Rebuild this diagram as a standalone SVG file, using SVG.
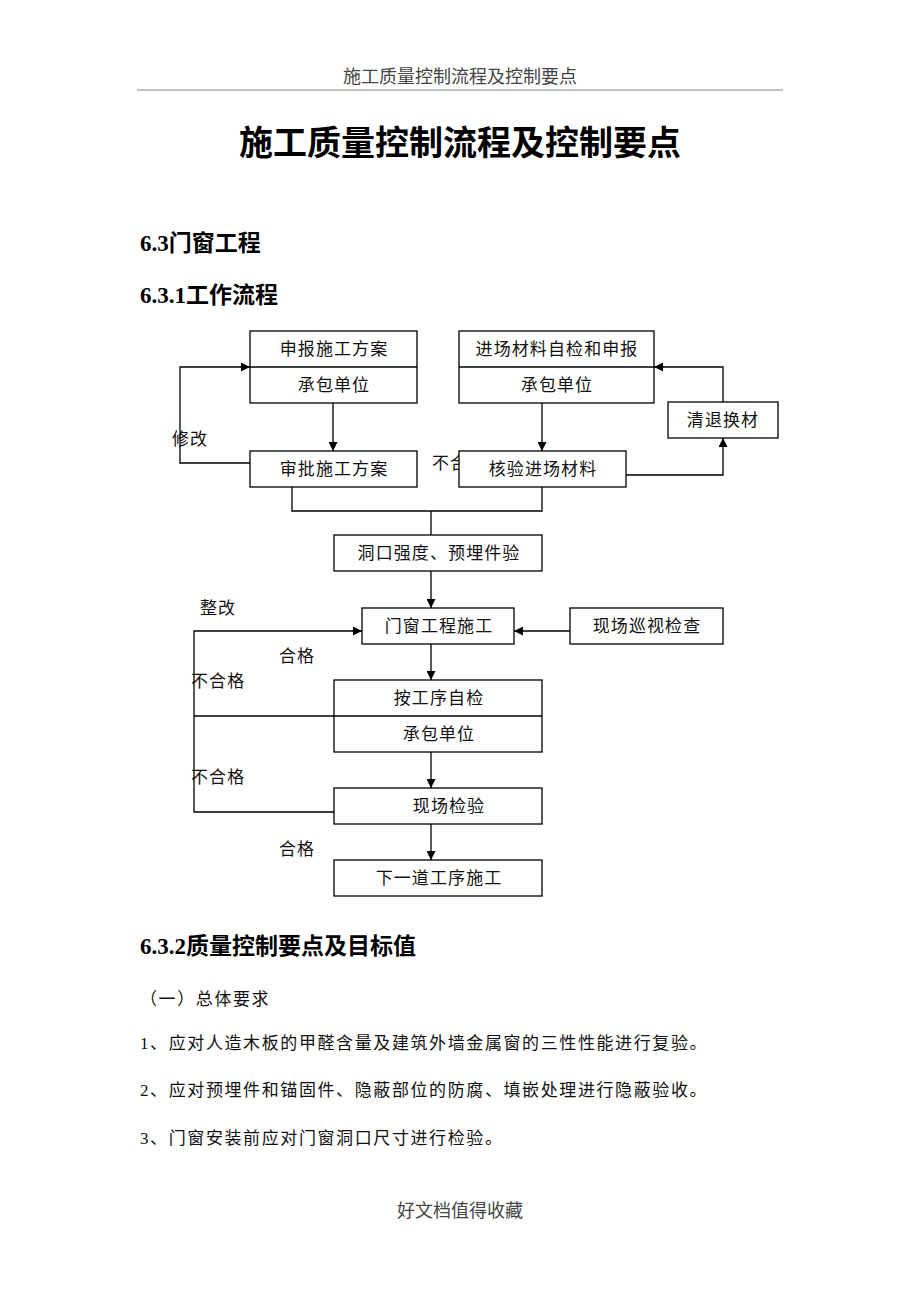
<svg xmlns="http://www.w3.org/2000/svg" width="920" height="1302" viewBox="0 0 920 1302">
<style>
.bg{fill:#fff}
.box{fill:#fff;stroke:#000;stroke-width:1.3}
.ln{fill:none;stroke:#000;stroke-width:1.3}
.t{font-family:"Liberation Serif","Noto Sans CJK SC",serif;font-size:17px;fill:#111;letter-spacing:1.1px}
.c{text-anchor:middle}
.h{font-family:"Liberation Serif","Noto Sans CJK SC",serif;font-size:23px;font-weight:bold;fill:#000}
.title{font-family:"Noto Sans CJK SC",sans-serif;font-size:34px;font-weight:bold;fill:#000;text-anchor:middle}
.hdr{font-family:"Noto Sans CJK SC",sans-serif;font-size:18px;fill:#444;text-anchor:middle}
.body{font-family:"Liberation Serif","Noto Sans CJK SC",serif;font-size:17px;fill:#111;letter-spacing:1.6px}
</style>
<defs>
<marker id="ah" viewBox="0 0 10 10" refX="10" refY="5" markerWidth="9" markerHeight="9" markerUnits="userSpaceOnUse" orient="auto">
<path d="M0,0 L10,5 L0,10 z" fill="#000"/>
</marker>
</defs>
<rect class="bg" x="0" y="0" width="920" height="1302"/>

<text class="hdr" x="460" y="83">施工质量控制流程及控制要点</text>
<line x1="137" y1="90" x2="783" y2="90" stroke="#aaa" stroke-width="1.5"/>
<text class="title" x="460" y="155">施工质量控制流程及控制要点</text>
<text class="h" x="140" y="251">6.3门窗工程</text>
<text class="h" x="140" y="303">6.3.1工作流程</text>

<g id="labels">
<text class="t" x="432" y="469">不合格</text>
<text class="t" x="172" y="445">修改</text>
<text class="t" x="200" y="614">整改</text>
<text class="t" x="279" y="662">合格</text>
<text class="t" x="191" y="687">不合格</text>
<text class="t" x="191" y="783">不合格</text>
<text class="t" x="279" y="855">合格</text>
</g>

<g id="connectors">
<path class="ln" d="M333,403 V451" marker-end="url(#ah)"/>
<path class="ln" d="M250,463 H180 V367 H250" marker-end="url(#ah)"/>
<path class="ln" d="M542,403 V451" marker-end="url(#ah)"/>
<path class="ln" d="M626,475 H723 V438" marker-end="url(#ah)"/>
<path class="ln" d="M723,402 V367 H654" marker-end="url(#ah)"/>
<path class="ln" d="M292,487 V511 H542 V487"/>
<path class="ln" d="M431,511 V535"/>
<path class="ln" d="M431,571 V608" marker-end="url(#ah)"/>
<path class="ln" d="M570,631 H514" marker-end="url(#ah)"/>
<path class="ln" d="M334,812 H194 V631 H362" marker-end="url(#ah)"/>
<path class="ln" d="M194,716 H334"/>
<path class="ln" d="M431,644 V680" marker-end="url(#ah)"/>
<path class="ln" d="M431,752 V788" marker-end="url(#ah)"/>
<path class="ln" d="M431,824 V860" marker-end="url(#ah)"/>
</g>

<g id="n-shenbao">
<rect class="box" x="250" y="331" width="167" height="72"/>
<line class="ln" x1="250" y1="367" x2="417" y2="367"/>
<text class="t c" x="334" y="355">申报施工方案</text>
<text class="t c" x="334" y="391">承包单位</text>
</g>
<g id="n-jinchang">
<rect class="box" x="459" y="331" width="195" height="72"/>
<line class="ln" x1="459" y1="367" x2="654" y2="367"/>
<text class="t c" x="557" y="355">进场材料自检和申报</text>
<text class="t c" x="557" y="391">承包单位</text>
</g>
<g id="n-qingtui">
<rect class="box" x="668" y="402" width="110" height="36"/>
<text class="t c" x="723" y="426">清退换材</text>
</g>
<g id="n-shenpi">
<rect class="box" x="250" y="451" width="167" height="36"/>
<text class="t c" x="334" y="475">审批施工方案</text>
</g>
<g id="n-heyan">
<rect class="box" x="459" y="451" width="167" height="36"/>
<text class="t c" x="543" y="475">核验进场材料</text>
</g>
<g id="n-dongkou">
<rect class="box" x="334" y="535" width="208" height="36"/>
<text class="t c" x="439" y="559">洞口强度、预埋件验</text>
</g>
<g id="n-menchuang">
<rect class="box" x="362" y="608" width="152" height="36"/>
<text class="t c" x="439" y="632">门窗工程施工</text>
</g>
<g id="n-xunshi">
<rect class="box" x="570" y="608" width="153" height="36"/>
<text class="t c" x="647" y="632">现场巡视检查</text>
</g>
<g id="n-zijian">
<rect class="box" x="334" y="680" width="208" height="72"/>
<line class="ln" x1="334" y1="716" x2="542" y2="716"/>
<text class="t c" x="439" y="704">按工序自检</text>
<text class="t c" x="439" y="740">承包单位</text>
</g>
<g id="n-jianyan">
<rect class="box" x="334" y="788" width="208" height="36"/>
<text class="t c" x="449" y="812">现场检验</text>
</g>
<g id="n-xiayidao">
<rect class="box" x="334" y="860" width="208" height="36"/>
<text class="t c" x="439" y="884">下一道工序施工</text>
</g>

<text class="h" x="140" y="954">6.3.2质量控制要点及目标值</text>
<text class="body" x="140" y="1005">（一）总体要求</text>
<text class="body" x="140" y="1049">1、应对人造木板的甲醛含量及建筑外墙金属窗的三性性能进行复验。</text>
<text class="body" x="140" y="1096">2、应对预埋件和锚固件、隐蔽部位的防腐、填嵌处理进行隐蔽验收。</text>
<text class="body" x="140" y="1144">3、门窗安装前应对门窗洞口尺寸进行检验。</text>

<text class="hdr" x="460" y="1217" fill="#222">好文档值得收藏</text>
</svg>
